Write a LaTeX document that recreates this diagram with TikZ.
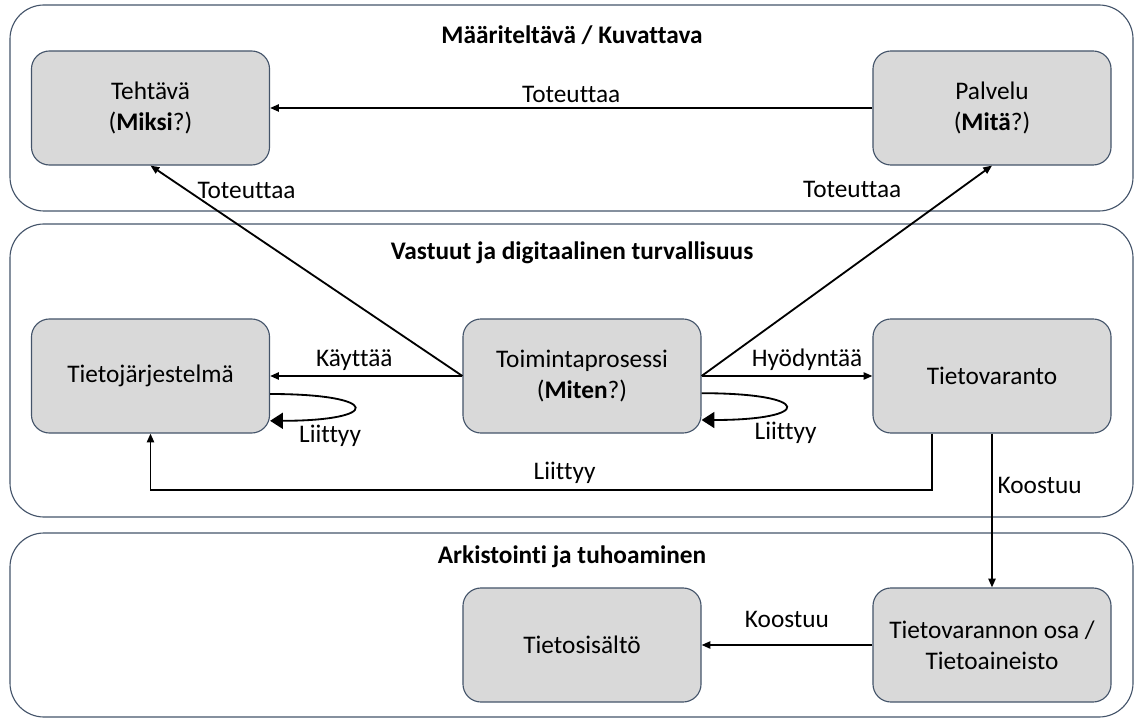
\documentclass[tikz,border=0pt]{standalone}
\usepackage{fontspec}
\setmainfont{Carlito}[Ligatures={NoCommon}]
\usetikzlibrary{arrows.meta}
\definecolor{boxgray}{HTML}{D9D9D9}
\definecolor{framegray}{HTML}{44546A}

\begin{document}
\begin{tikzpicture}[x=0.025cm,y=-0.025cm,
  every node/.style={font=\fontsize{18}{22}\selectfont},
  band/.style={draw=framegray,rounded corners=0.85cm,line width=0.8pt},
  title/.style={font=\fontsize{18}{22}\selectfont\bfseries},
  obj/.style={draw=framegray,fill=boxgray,rounded corners=0.45cm,line width=0.8pt,
    minimum width=5.95cm,minimum height=2.85cm,align=center,inner sep=2pt},
  rel/.style={draw,line width=1.3pt,-{Triangle[length=2.2mm,width=1.8mm]}},
  selfrel/.style={draw,line width=1.3pt,-{Triangle[length=3.2mm,width=4mm]}}]
\useasboundingbox (0,0) rectangle (1135,720);

% bands
\path[band] (10,5) rectangle (1133,211);
\path[band] (10,224) rectangle (1133,517);
\path[band] (10,533) rectangle (1133,717);
\node[title] (t1) at (572,35) {Määriteltävä / Kuvattava};
\node[title] (t2) at (572,253) {Vastuut ja digitaalinen turvallisuus};
\node[title] (t3) at (572,557) {Arkistointi ja tuhoaminen};

% objects
\node[obj] (task) at (150.5,108) {Tehtävä\\(\textbf{Miksi}?)};
\node[obj] (serv) at (992,108) {Palvelu\\(\textbf{Mitä}?)};
\node[obj] (sys) at (150.5,376) {Tietojärjestelmä};
\node[obj] (proc) at (582,376) {Toimintaprosessi\\(\textbf{Miten}?)};
\node[obj] (store) at (992,376) {Tietovaranto};
\node[obj] (cont) at (582,645) {Tietosisältö};
\node[obj] (part) at (992,645) {Tietovarannon osa /\\Tietoaineisto};

% relations
\path[rel] (serv) -- node[above] {Toteuttaa} (task);
\path[rel] (proc.west) -- node[pos=0.88,anchor=west,xshift=0.1cm] {Toteuttaa} (task.south);
\path[rel] (proc.east) -- node[pos=0.886,anchor=east,xshift=-1.3cm] {Toteuttaa} (serv.south);
\path[rel] (proc.west) -- node[above,xshift=-0.3cm] {Käyttää} (sys.east);
\path[rel] (proc.east) -- node[above,xshift=0.5cm] {Hyödyntää} (store.west);
\path[selfrel] ([yshift=-0.45cm]sys.east) .. controls +(2.8cm,0) and +(2.8cm,0) .. node[pos=0.5,below=0.3cm,xshift=-0.6cm] {Liittyy} ([yshift=-1.12cm]sys.east);
\path[selfrel] ([yshift=-0.43cm]proc.east) .. controls +(2.8cm,0) and +(2.8cm,0) .. node[pos=0.5,below=0.25cm] {Liittyy} ([yshift=-1.1cm]proc.east);
\path[rel] ([xshift=-1.5cm]store.south) |- node[pos=0.735,above] {Liittyy} ([yshift=-1.4cm]sys.south) -- (sys.south);
\path[rel] (store.south) -- node[pos=0.34,right] {Koostuu} (part.north);
\path[rel] (part) -- node[above,yshift=0.3cm] {Koostuu} (cont);
\end{tikzpicture}
\end{document}
